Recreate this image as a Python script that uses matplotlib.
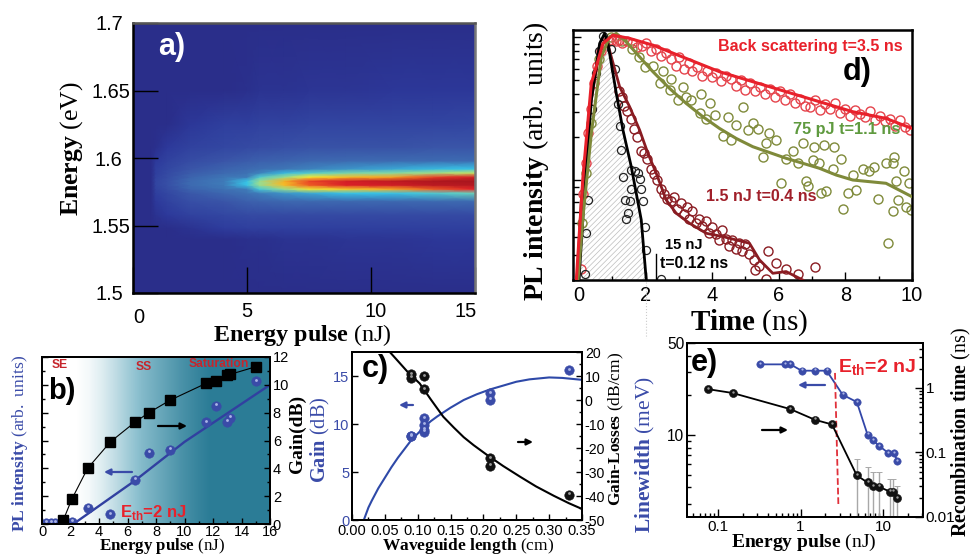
import numpy as np
import matplotlib
matplotlib.use('Agg')
from matplotlib import pyplot as plt
from matplotlib.colors import LinearSegmentedColormap
from matplotlib.transforms import ScaledTranslation

plt.rcParams['font.family'] = 'Liberation Sans'
plt.rcParams['mathtext.fontset'] = 'custom'
plt.rcParams['mathtext.rm'] = 'Liberation Serif'
plt.rcParams['mathtext.bf'] = 'Liberation Sans:bold'
plt.rcParams['hatch.linewidth'] = 0.5

W, H = 971, 555
BLUE = '#3a4ba8'
RED = '#e8212b'
DRED = '#8a1c22'
OLIVE = '#7f8a3a'

# panel a: map of PL, read row by row
a_pulse = [0, .8, 1, 1.5, 2.5, 4, 5, 5.5, 6.5, 7.5, 9, 11, 13, 15]
a_energy = [1.50, 1.54, 1.548, 1.558, 1.568, 1.574, 1.577, 1.580, 1.583, 1.586, 1.589,
            1.592, 1.598, 1.608, 1.625, 1.65, 1.70]
a_map = [
    [0, 0, 0, 0, 0, 0, 0, 0, 0, 0, 0, 0, 0, 0],
    [0, 0, 0, 0, 0, 0, .01, .01, .02, .02, .03, .03, .04, .04],
    [0, 0, 0, 0, .02, .06, .07, .07, .07, .07, .07, .07, .07, .07],
    [0, 0, .02, .05, .08, .10, .11, .11, .11, .11, .11, .11, .11, .11],
    [0, 0, .05, .08, .13, .15, .18, .19, .20, .20, .20, .20, .21, .21],
    [0, 0, .07, .10, .16, .20, .23, .25, .28, .30, .33, .33, .36, .40],
    [0, 0, .08, .12, .19, .23, .25, .35, .46, .54, .60, .65, .75, .82],
    [0, 0, .09, .13, .21, .25, .33, .46, .62, .75, .84, .88, .94, .96],
    [0, 0, .09, .13, .21, .25, .33, .46, .64, .78, .87, .93, .98, 1.0],
    [0, 0, .08, .12, .19, .24, .25, .36, .46, .55, .62, .66, .78, .87],
    [0, 0, .07, .11, .17, .21, .23, .26, .32, .37, .42, .44, .47, .50],
    [0, 0, .07, .10, .15, .19, .21, .22, .24, .26, .28, .30, .32, .33],
    [0, 0, .05, .08, .12, .15, .17, .18, .19, .20, .21, .21, .21, .21],
    [0, 0, .01, .05, .08, .10, .11, .12, .13, .14, .14, .14, .15, .15],
    [0, 0, 0, 0, .04, .07, .07, .08, .08, .09, .09, .09, .09, .10],
    [0, 0, 0, 0, 0, 0, .01, .02, .02, .03, .03, .04, .04, .04],
    [0, 0, 0, 0, 0, 0, 0, 0, 0, 0, 0, 0, 0, 0],
]
a_xticks = [0, 5, 10, 15]
a_yticks = [1.5, 1.55, 1.6, 1.65, 1.7]

# panel b
b_gain_x = [1.5, 2.1, 3.2, 4.8, 6.5, 7.5, 9, 11.5, 12.2, 13, 13.2, 15]
b_gain_y = [.3, 1.8, 4.0, 5.9, 7.3, 8.0, 8.9, 10.1, 10.3, 10.7, 10.75, 11.3]
b_pl_x = [.3, .6, .9, 1.5, 2.1, 3.2, 6.5, 7.5, 9, 11.5, 12.2, 13, 13.2, 15]
b_pl_y = [.1, .1, .1, .1, .15, 1.15, 3.15, 5.1, 5.35, 7.3, 8.5, 7.35, 7.65, 10.25]
b_fit_x = [2.2, 6.5, 10, 16]
b_fit_y = [0, 3.1, 5.9, 10]
b_shade = [0, 0, 0, .05, .15, .28, .42, .55, .65, .75, .85, .93, 1, 1, 1, 1, 1]

# panel c
c_gain_x = [.09, .09, .11, .11, .11, .11, .21, .21, .33]
c_gain_y = [8.7, 8.8, 10.6, 9.9, 9.4, 9.2, 13.2, 12.5, 15.6]
c_loss_x = [.09, .09, .11, .11, .21, .21, .33]
c_loss_y = [10.7, 9.3, 9.9, 4.4, -24.3, -27.3, -39.5]
c_gfit_x = [.018, .025, .03, .04, .05, .06, .07, .08, .09, .10, .11, .12, .13, .15, .17, .19, .21, .23,
            .25, .27, .30, .32, .35]
c_gfit_y = [0, 1.3, 2, 3.3, 4.4, 5.5, 6.5, 7.4, 8.3, 9.0, 9.7, 10.3, 10.8, 11.7, 12.5, 13.1, 13.6, 14.0,
            14.4, 14.65, 14.85, 14.8, 14.6]
c_lfit_x = [.0575, .07, .085, .103, .12, .13, .139, .155, .17, .185, .205, .23, .256, .28, .307, .33, .35]
c_lfit_y = [20, 16.2, 11.6, 6.9, .2, -3.6, -7, -11.5, -15.5, -18.8, -22.8, -27.5, -32, -36, -39.9, -43, -45.4]

# panel d: intensities kept as log10
bs_fit_t = [-.08, .12, .37, .72, 1.02, 1.52, 2.22, 3.22, 4.22, 5.22, 6.22, 7.22, 8.22, 9.22, 10]
bs_fit_l = [-.7, .023, .676, .956, 1.014, .991, .944, .851, .758, .688, .618, .548, .478, .431, .361]
ol_fit_t = [-.03, .12, .37, .67, .92, 1.12, 1.42, 1.82, 2.22, 2.72, 3.22, 3.72, 4.22, 4.72, 5.22, 6.22,
            7.22, 7.72, 8.22, 9.22, 10]
ol_fit_l = [-.7, -.256, .326, .862, 1.002, 1.026, .967, .862, .758, .641, .536, .443, .361, .291, .233,
            .152, .082, .035, 0, -.023, -.117]
dr_fit_t = [-.06, .07, .32, .62, .82, .97, 1.22, 1.52, 1.82, 2.07, 2.32, 2.62, 2.92, 3.32, 3.82, 4.32,
            5.12, 5.42, 5.82, 6.22, 6.72]
dr_fit_l = [-.7, -.14, .49, .91, .993, .862, .653, .513, .35, .186, .047, -.14, -.233, -.303, -.373,
            -.396, -.443, -.559, -.653, -.641, -.7]
bk_fit_t = [.0, .12, .37, .62, .77, .87, 1.12, 1.32, 1.57, 1.87, 2.02]
bk_fit_l = [-.7, -.256, .56, .956, 1.026, .956, .606, .35, .093, -.28, -.7]

bs_t = [.05, .12, .2, .28, .35, .45, .55, .65, .75, .9, 1.0, 1.1, 1.2, 1.3, 1.45, 1.6, 1.75, 1.9, 2.0, 2.15,
        2.3, 2.45, 2.6, 2.75, 2.9, 3.0, 3.15, 3.3, 3.4, 3.55, 3.7, 3.85, 4.0, 4.1, 4.25, 4.4, 4.55, 4.7, 4.85,
        5.0, 5.15, 5.3, 5.45, 5.6, 5.75, 5.9, 6.05, 6.2, 6.35, 6.5, 6.65, 6.8, 6.95, 7.1, 7.25, 7.4, 7.55, 7.7,
        7.85, 8.0, 8.15, 8.3, 8.45, 8.6, 8.75, 8.9, 9.05, 9.2, 9.35, 9.5, 9.65, 9.8, 9.95]
bs_l = [-.62, -.1, .12, .33, .5, .68, .8, .9, .96, .97, .98, .97, .98, .96, .97, .96, .93, .94, .96, .90,
        .92, .87, .89, .85, .80, .86, .78, .82, .76, .79, .73, .76, .72, .75, .69, .73, .71, .66, .70,
        .63, .68, .62, .65, .60, .64, .58, .62, .56, .60, .54, .57, .52, .51, .56, .49, .53, .50, .54,
        .47, .50, .45, .49, .46, .44, .48, .42, .45, .41, .43, .38, .42, .37, .35]
ol_t = [3.67, 3.92, 4.92, 6.72, 7.07, 7.37, 7.67, 7.87, 6.07, 6.82, 6.87, 7.27, 7.42, 7.92, 9.42, 9.27, 9.47,
        9.77, 9.92, 9.97, 9.82, 9.22, 9.42, 8.87, 8.52, 8.72, 8.22, 8.07, 8.32, 8.97, 9.57, 9.52, 5.72, 5.92,
        5.62, 5.52, 5.22, 5.37, 5.07, 4.72, 4.47, 4.32, 4.57, 4.07, 3.82, 3.62, 3.37, 3.12, 2.97, 2.77, 2.52,
        2.22, 1.97, 2.42, 2.72, 3.22, 6.22, 6.42, 7.22, 7.62, 7.02, 6.57, .1, .2, .35, .6, .95, 1.3, 1.6, 1.8]
ol_l = [.60, .54, .51, .26, .23, .245, .23, .15, -.02, -.01, -.04, -.09, -.08, -.20, -.22, -.44, .16,
        .06, -.02, -.21, -.19, .12, .12, .09, .08, .06, .035, -.09, -.07, -.13, -.14, -.01, .33, .28,
        .26, .16, .40, .36, .35, .385, .44, .31, .28, .455, .43, .47, .56, .65, .56, .71, .76,
        .80, .79, .68, .63, .58, .15, .20, .12, .08, .14, .12, -.3, .05, .4, .85, 1.0, .97, .92, .86]
dr_t = [1.2, 1.3, 1.35, 1.45, 1.55, 1.65, 1.75, 1.85, 1.95, 2.05, 2.15, 2.25, 2.35, 2.45, 2.55, 2.65, 2.75,
        2.85, 2.95, 3.05, 3.15, 3.25, 3.3, 3.4, 3.5, 3.6, 3.7, 3.8, 3.9, 4.0, 4.1, 4.2, 4.3, 4.4, 4.5, 4.6,
        4.7, 4.8, 4.9, 5.0, 5.1, 5.25, 5.4, 5.67, 5.3, 5.92, 6.22, 6.57, 7.09, 5.62]
dr_l = [.62, .58, .52, .48, .43, .36, .3, .2, .19, .15, .08, .04, 0, -.06, -.1, -.13, -.15,
        -.12, -.2, -.16, -.24, -.19, -.27, -.22, -.3, -.27, -.32, -.29, -.37, -.33, -.38, -.42, -.35, -.41,
        -.46, -.42, -.48, -.44, -.5, -.45, -.52, -.56, -.6, -.5, -.63, -.58, -.62, -.66, -.61, -.69]
bk_t = [.72, .97, 1.07, 1.17, 1.22, 1.27, 1.32, 1.57, 1.67, 1.77, 1.82, 1.57, 1.87, 1.92, 1.37, 1.52, 1.47,
        1.40, .27, .22, .17, 1.97, 2.0, 2.47, .4, .5, .6]
bk_l = [1.01, .92, .78, .53, .38, .21, .02, .07, .06, .05, .01, -.06, -.06, -.15, -.14, -.15, -.23,
        -.27, -.14, -.37, -.66, -.33, -.49, -.69, .5, .75, .9]

# panel e
e_width_x = [.325, .65, .755, 1.03, 1.5, 2.07, 3.25, 4.82, 6.5, 7.55, 9.02, 11.6, 13.5, 15]
e_width_y = [34.4, 34.4, 34.4, 30.8, 30.8, 30.8, 20.2, 17.8, 10.06, 9.1, 8.25, 7.3, 7.3, 6.35]
e_tau_x = [.075, .15, .75, 1.5, 2.41, 4.82, 6.5, 7.55, 9, 12.3, 13.4, 15]
e_tau_y = [.96, .836, .471, .321, .272, .044, .0343, .030, .0294, .0245, .0245, .0195]
e_err_x = [4.82, 6.5, 7.55, 9, 12.3, 13.4, 15]
e_err_top = [.078, .0587, .0492, .0492, .0395, .0395, .03]
e_err_mid = [.044, .0343, .030, .0294, .0245, .0245, .0195]


def box(l, t, r, b):
    return [l / W, 1 - b / H, (r - l) / W, (b - t) / H]


def fx(x, y):
    return (x / W, 1 - y / H)


def serif(x, y, s, size, color='black', rotation=0):
    fig.text(*fx(x, y), s, family='Liberation Serif', fontweight='bold', fontsize=size, color=color,
             rotation=rotation, ha='center', va='center')


def sans(x, y, s, size, color='black'):
    fig.text(*fx(x, y), s, fontweight='bold', fontsize=size, color=color, ha='center', va='center', zorder=20)


def arrow(ax, x0, x1, y, color):
    ax.annotate('', xy=fx(x1, y), xytext=fx(x0, y), xycoords='figure fraction', textcoords='figure fraction',
                arrowprops=dict(arrowstyle='-|>', color=color, lw=1.6, mutation_scale=9, shrinkA=0, shrinkB=0))


def sphere(ax, x, y, color, size, hi='#aab4e6'):
    ax.plot(x, y, 'o', color=color, ms=size, mec=color, mew=0.4, ls='none', zorder=5)
    up = ax.transData + ScaledTranslation(0, size * 0.18 / 72, fig.dpi_scale_trans)
    ax.plot(x, y, 'o', color=hi, ms=size * 0.3, mew=0, ls='none', zorder=6, transform=up)


def style(ax, lw=1.6):
    for s in ax.spines.values():
        s.set_linewidth(lw)
    ax.tick_params(which='both', direction='in', width=1)


fig = plt.figure(figsize=(W / 100, H / 100), dpi=100)

# a)
cmap_a = LinearSegmentedColormap.from_list('pl', [
    (0, '#2a2e8a'), (.05, '#2d3a9c'), (.15, '#3a55a8'), (.25, '#3f7ab8'), (.33, '#38c4e6'),
    (.45, '#8fdc9a'), (.55, '#f7ea30'), (.7, '#f58a20'), (.82, '#e3222a'), (1, '#a8161e')])
pix_x = [-100, 133, 247, 371, 475, 900]
val_x = [-30, 0, 5, 10, 15, 40]
ax_a = fig.add_axes(box(133, 23, 475, 293))
ax_a.set_xscale('function', functions=(lambda v: np.interp(v, val_x, pix_x),
                                       lambda p: np.interp(p, pix_x, val_x)))
ax_a.pcolormesh(a_pulse, a_energy, np.array(a_map), shading='gouraud', cmap=cmap_a, vmin=0, vmax=1)
ax_a.set_xlim(0, 15)
ax_a.set_ylim(1.5, 1.7)
style(ax_a, 1.8)
ax_a.spines['top'].set_color('#555555')
ax_a.spines['right'].set_color('#777777')
ax_a.set_xticks(a_xticks, ['0', '5', '10', '15'], fontsize=14.4)
ax_a.set_yticks(a_yticks, ['1.5', '1.55', '1.6', '1.65', '1.7'], fontsize=14.4)
ax_a.tick_params(axis='x', length=19, pad=2)
ax_a.tick_params(axis='y', length=18, pad=2)
ax_a.minorticks_off()
fig.canvas.draw()
for lab, dx, dy in zip(ax_a.get_xticklabels(), [4, 0, 3, -7], [-9, -4.5, -4.5, -4.5]):
    lab.set_transform(lab.get_transform() + ScaledTranslation(dx / 72, dy / 72, fig.dpi_scale_trans))
for lab, dx in zip(ax_a.get_yticklabels(), [-5, 0, -6, 0, -5]):
    lab.set_transform(lab.get_transform() + ScaledTranslation(dx / 72, 0, fig.dpi_scale_trans))
sans(172, 47, 'a)', 22, 'white')
serif(72, 149, r'Energy $\mathrm{(eV)}$', 18.5, rotation=90)
serif(302, 335, r'Energy pulse $\mathrm{(nJ)}$', 17.3)

# b)
ax_b = fig.add_axes(box(42, 357, 270, 524))
cmap_b = LinearSegmentedColormap.from_list('sh', ['#ffffff', '#8cc0cf', '#2b7c96'])
ax_b.imshow([b_shade], extent=(0, 16, 0, 12), aspect='auto', cmap=cmap_b, vmin=0, vmax=1, interpolation='bilinear')
ax_b.set_xlim(0, 16)
ax_b.set_ylim(0, 12)
style(ax_b, 1.4)
ax_b.set_xticks(range(0, 17, 2))
ax_b.set_xticks(range(1, 16, 2), minor=True)
ax_b.set_yticks(range(0, 13, 2), [])
ax_b.set_yticks(range(1, 12, 2), minor=True)
ax_b.tick_params(axis='x', labelsize=10.5, pad=1, length=4)
ax_b.tick_params(which='minor', length=2.5)
ax_b.tick_params(axis='y', length=4)
ax_b.plot(b_fit_x, b_fit_y, color='#3140a0', lw=1.7, zorder=3)
sphere(ax_b, b_pl_x, b_pl_y, BLUE, 6.8)
ax_b2 = ax_b.twinx()
ax_b2.set_ylim(0, 12)
style(ax_b2, 1.4)
ax_b2.set_yticks(range(0, 13, 2))
ax_b2.set_yticks(range(1, 12, 2), minor=True)
ax_b2.tick_params(axis='y', which='major', labelsize=10.5, pad=2, length=4)
ax_b2.tick_params(axis='y', which='minor', length=2.5)
ax_b2.plot(b_gain_x, b_gain_y, '-', color='black', lw=0.8, zorder=3)
ax_b2.plot(b_gain_x, b_gain_y, 's', color='black', ms=6.5, ls='none', zorder=5)
sphere(ax_b2, [4.8], [.7], BLUE, 6.8)
arrow(ax_b2, 158, 187, 426, 'black')
arrow(ax_b2, 132, 104, 472, '#3a4ba8')
sans(60, 365, 'SE', 8.7, '#c6252c')
sans(144, 367, 'SS', 8.7, '#c6252c')
sans(219, 364, 'Saturation', 8.7, '#c6252c')
sans(62, 391, 'b)', 21)
fig.text(*fx(120, 513), r'E$_{\mathbf{th}}$=2 nJ', fontweight='bold', fontsize=12, color=RED, va='center', zorder=20)
serif(20, 443, r'PL intensity $\mathrm{(arb.\;units)}$', 12.6, color=BLUE, rotation=90)
serif(297, 434, 'Gain(dB)', 14, rotation=90)
serif(320, 440, r'Gain $\mathrm{(dB)}$', 14.7, color=BLUE, rotation=90)
serif(162, 546, r'Energy pulse $\mathrm{(nJ)}$', 12.2)

# c)
ax_c = fig.add_axes(box(352, 352, 582, 520))
ax_c.set_xlim(0, .35)
ax_c.set_ylim(0, 17.5)
style(ax_c, 1.4)
ax_c.set_xticks(np.arange(0, .36, .05), ['0.00', '0.05', '0.10', '0.15', '0.20', '0.25', '0.30', '0.35'])
ax_c.set_xticks(np.arange(.025, .35, .05), minor=True)
ax_c.set_yticks([0, 5, 10, 15])
ax_c.tick_params(axis='x', labelsize=10.5, pad=3, length=4)
ax_c.tick_params(axis='y', labelsize=10.5, labelcolor=BLUE, pad=2, length=4)
ax_c.tick_params(which='minor', length=2.5)
ax_c.plot(c_gfit_x, c_gfit_y, color='#2e49a8', lw=1.5, zorder=3)
sphere(ax_c, c_gain_x, c_gain_y, BLUE, 6.8)
ax_c2 = ax_c.twinx()
ax_c2.set_ylim(-50, 20)
style(ax_c2, 1.4)
ax_c2.set_yticks(range(-50, 21, 10), ['-50', '-40', '-30', '-20', '-10', '0', '10', '20'])
ax_c2.set_yticks(range(-45, 20, 10), minor=True)
ax_c2.tick_params(axis='y', labelsize=10.2, pad=2, length=4)
ax_c2.tick_params(axis='y', which='minor', length=2.5)
ax_c2.plot(c_lfit_x, c_lfit_y, color='black', lw=1.5, zorder=3)
sphere(ax_c2, c_loss_x, c_loss_y, '#111111', 6.8, hi='#999999')
arrow(ax_c2, 413, 399, 405, '#3a4ba8')
arrow(ax_c2, 518, 533, 442, 'black')
sans(375, 369, 'c)', 22)
serif(616, 429, r'Gain-Losses $\mathrm{(dB/cm)}$', 12.5, rotation=90)
serif(468, 546, r'Waveguide length $\mathrm{(cm)}$', 12.5)

# d)
ax_d = fig.add_axes(box(573, 30, 912, 280))
ax_d.set_yscale('log')
ax_d.set_xlim(-.18, 10)
ax_d.set_ylim(10 ** -.7, 10 ** 1.05)
style(ax_d, 1.8)
ax_d.set_xticks(range(0, 11, 2))
ax_d.set_xticks(range(1, 10, 2), minor=True)
ax_d.tick_params(axis='x', labelsize=14.4, length=6, pad=4)
ax_d.tick_params(axis='x', which='minor', length=3)
ax_d.tick_params(axis='y', which='major', length=6, labelleft=False)
ax_d.tick_params(axis='y', which='minor', length=4, labelleft=False)
ax_d.fill_between(bk_fit_t, 10 ** np.array(bk_fit_l), 10 ** -.7, facecolor='white', edgecolor='#bdbdbd',
                  hatch='//////', lw=0, zorder=1)
ax_d.plot(ol_t, 10 ** np.array(ol_l), 'o', mfc='none', mec=OLIVE, ms=6.5, mew=1, zorder=2)
ax_d.plot(bs_t, 10 ** np.array(bs_l), 'o', mfc='none', mec='#e5434b', ms=6.5, mew=1, zorder=2)
ax_d.plot(dr_t, 10 ** np.array(dr_l), 'o', mfc='none', mec=DRED, ms=6.5, mew=1, zorder=2)
ax_d.plot(bk_t, 10 ** np.array(bk_l), 'o', mfc='none', mec='#222222', ms=5.8, mew=0.9, zorder=2)
ax_d.plot(dr_fit_t, 10 ** np.array(dr_fit_l), color=DRED, lw=2, zorder=3)
ax_d.plot(bk_fit_t, 10 ** np.array(bk_fit_l), color='black', lw=2, zorder=3)
ax_d.plot(ol_fit_t, 10 ** np.array(ol_fit_l), color=OLIVE, lw=2.2, zorder=3)
ax_d.plot(bs_fit_t, 10 ** np.array(bs_fit_l), color=RED, lw=2.2, zorder=4)
ax_d.plot([2.3, 2.3], [10 ** -.7, 10 ** -.52], color='black', lw=1)
fig.add_artist(plt.Line2D([646 / W, 646 / W], [1 - 282 / H, 1 - 338 / H], color='#cccccc', lw=0.8, ls=':'))
sans(810, 46, 'Back scattering t=3.5 ns', 11.5, RED)
sans(847, 129, '75 pJ t=1.1 ns', 11.7, '#5f9a3f')
sans(761, 197, '1.5 nJ t=0.4 ns', 11.5, '#a0202a')
sans(684, 245, '15 nJ', 10.6)
sans(694, 264, 't=0.12 ns', 11.3)
sans(857, 72, 'd)', 22)
serif(536, 161, r'PL intensity $\mathrm{(arb.\;units)}$', 20, rotation=90)
serif(749, 323, r'Time $\mathrm{(ns)}$', 21)

# e)
ax_e = fig.add_axes(box(687, 343, 923, 517))
ax_e.set_xscale('log')
ax_e.set_yscale('log')
ax_e.set_xlim(.042, 30.6)
ax_e.set_ylim(2.38, 50)
style(ax_e, 1.4)
ax_e.set_xticks([.1, 1, 10], ['0.1', '1', '10'])
ax_e.set_yticks([10, 50], ['10', '50'])
ax_e.tick_params(axis='x', which='major', labelsize=11, length=6, pad=2)
ax_e.tick_params(axis='y', which='major', labelsize=11.2, length=6, pad=2)
ax_e.tick_params(which='minor', length=3, labelleft=False, labelbottom=False)
ax_e.plot(e_width_x, e_width_y, color='#3246a8', lw=1.3, zorder=3)
sphere(ax_e, e_width_x, e_width_y, BLUE, 5.3)
ax_e2 = ax_e.twinx()
ax_e2.set_yscale('log')
ax_e2.set_ylim(.01, 4.98)
style(ax_e2, 1.4)
ax_e2.set_yticks([.01, .1, 1], ['0.01', '0.1', '1'])
ax_e2.tick_params(axis='y', which='major', labelsize=11, length=6, pad=2)
ax_e2.tick_params(axis='y', which='minor', length=3, labelright=False)
ax_e2.errorbar(e_err_x, e_err_mid,
               yerr=[np.array(e_err_mid) - .0101, np.array(e_err_top) - np.array(e_err_mid)],
               fmt='none', ecolor='#a8a8a8', elinewidth=1, capsize=2, capthick=0.7, zorder=2)
ax_e2.plot([2.62, 2.88], [1.71, .0152], color='#e0303a', lw=1.3, ls='--', zorder=3)
ax_e2.plot(e_tau_x, e_tau_y, color='black', lw=1.3, zorder=4)
sphere(ax_e2, e_tau_x, e_tau_y, '#111111', 5.8, hi='#999999')
arrow(ax_e2, 762, 788, 430, 'black')
arrow(ax_e2, 825, 798, 385, '#3a4ba8')
sans(704, 363, 'e)', 22)
fig.text(*fx(838, 368), r'E$_{\mathbf{th}}$=2 nJ', fontweight='bold', fontsize=14, color=RED, va='center', zorder=20)
serif(645, 455, r'Linewidth $\mathrm{(meV)}$', 15.5, color=BLUE, rotation=90)
serif(961, 432, r'Recombination time $\mathrm{(ns)}$', 14.4, rotation=90)
serif(804, 542, r'Energy pulse $\mathrm{(nJ)}$', 14)

fig.savefig('out.png', dpi=100)
